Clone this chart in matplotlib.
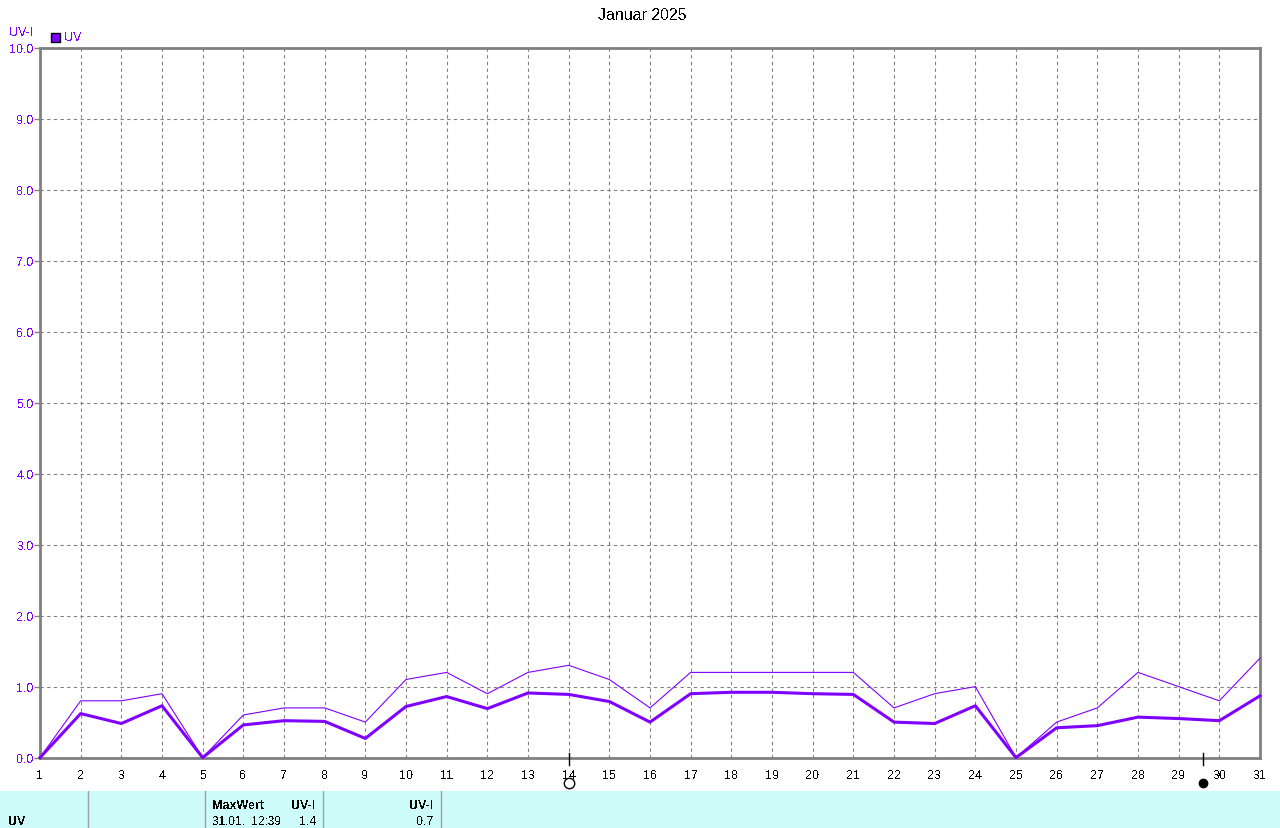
#!/usr/bin/env python
# monthly UV index chart, January 2025
import matplotlib
matplotlib.use('Agg')
import matplotlib.pyplot as plt
from matplotlib.lines import Line2D
from matplotlib.patches import Rectangle

W, H = 1280, 829
PURPLE = '#8000ff'
GREY = '#808080'

days = list(range(1, 32))
uv_max = [0, .8, .8, .9, 0, .6, .7, .7, .5, 1.1, 1.2, .9, 1.2, 1.3, 1.1, .7,
          1.2, 1.2, 1.2, 1.2, 1.2, .7, .9, 1.0, 0, .5, .7, 1.2, 1.0, .8, 1.4]
uv_mean = [0, .62, .48, .73, 0, .46, .52, .51, .27, .72, .86, .69, .91, .89,
           .79, .5, .9, .92, .92, .9, .89, .5, .48, .73, 0, .42, .45, .57,
           .55, .52, .87]
y_ticks = [0, 1, 2, 3, 4, 5, 6, 7, 8, 9, 10]
full_moon = 14.0
new_moon = 29.6
panel_seps = [88, 205, 323, 441]

plt.rcParams['font.family'] = ['Liberation Sans', 'DejaVu Sans']
plt.rcParams['font.size'] = 9
plt.rcParams['text.antialiased'] = False

fig = plt.figure(figsize=(W / 100, H / 100), dpi=100, facecolor='white')
ax = fig.add_axes([40 / W, 1 - 758.6 / H, 1220 / W, 710 / H])

# grid first, lines on top
ax.grid(True, color=GREY, linestyle=(0, (3, 3)), linewidth=0.8)
ax.set_axisbelow(True)
ax.plot(days, uv_max, color=PURPLE, linewidth=0.8, clip_on=False, zorder=3)
ax.plot(days, uv_mean, color=PURPLE, linewidth=2.2, clip_on=False, zorder=3)

ax.set_xlim(1, 31)
ax.set_ylim(0, 10)
ax.set_xticks(days)
ax.set_yticks(y_ticks)
ax.set_yticklabels(['%.1f' % v for v in y_ticks], color=PURPLE, fontsize=9)
ax.tick_params(axis='x', length=0, pad=8, labelsize=9)
ax.tick_params(axis='y', length=4, width=1, color=GREY, pad=0.5)
for s in ax.spines.values():
    s.set_color(GREY)
    s.set_linewidth(2.0)

# helper for things placed in image pixels
def px(x, y):
    return x / W, 1 - y / H

x, y = px(642, 15.5)
fig.text(x, y, 'Januar 2025', ha='center', va='center', fontsize=11.5)
x, y = px(9, 32.5)
fig.text(x, y, 'UV-I', ha='left', va='center', color=PURPLE, fontsize=9)
x, y = px(64, 38)
fig.text(x, y, 'UV', ha='left', va='center', color=PURPLE, fontsize=9)
fig.add_artist(Rectangle(px(50.5, 42.5), 9 / W, 9 / H, transform=fig.transFigure,
                         facecolor=PURPLE, edgecolor='black', linewidth=1))

# moon phase ticks under the axis
trans = ax.get_xaxis_transform()
for d, fc in [(full_moon, 'white'), (new_moon, 'black')]:
    ax.add_line(Line2D([d, d], [-7 / 710, 5 / 710], transform=trans,
                       color='black', linewidth=1, clip_on=False, zorder=5))
    ax.plot([d], [-25 / 710], marker='o', markersize=7.5 if fc == 'white' else 6,
            markerfacecolor=fc, markeredgecolor='black', markeredgewidth=1,
            transform=trans, clip_on=False, zorder=5)
ax.set_xlim(1, 31)
ax.set_ylim(0, 10)

# info panel at the bottom
panel = fig.add_axes([0, 0, 1, 37 / H])
panel.axis('off')
panel.add_patch(Rectangle((0, 792), W, 37, facecolor='#ccfbf9', edgecolor='none'))
for sx in panel_seps:
    panel.plot([sx, sx], [792, 829], color='#a0a0a0', linewidth=1)
panel.text(8, 822, 'UV', fontweight='bold', va='center', fontsize=9)
panel.text(212, 806, 'MaxWert', fontweight='bold', va='center', fontsize=9)
panel.text(316, 806, 'UV-I', fontweight='bold', va='center', ha='right', fontsize=9)
panel.text(212, 822, '31.01.  12:39', va='center', fontsize=8.5)
panel.text(316, 822, '1.4', va='center', ha='right', fontsize=9)
panel.text(434, 806, 'UV-I', fontweight='bold', va='center', ha='right', fontsize=9)
panel.text(434, 822, '0.7', va='center', ha='right', fontsize=9)
panel.set_xlim(0, W)
panel.set_ylim(829, 792.5)

fig.savefig('out.png', dpi=100)
